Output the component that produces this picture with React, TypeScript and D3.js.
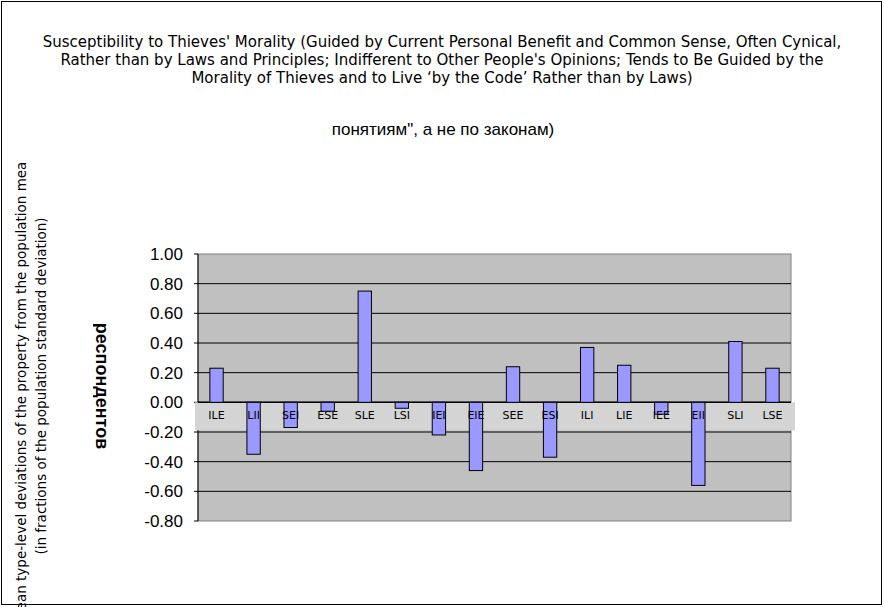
import React from "react";
import * as d3 from "d3";

const categories = ["ILE", "LII", "SEI", "ESE", "SLE", "LSI", "IEI", "EIE", "SEE", "ESI", "ILI", "LIE", "IEE", "EII", "SLI", "LSE"];
const values = [0.23, -0.35, -0.17, -0.06, 0.75, -0.04, -0.22, -0.46, 0.24, -0.37, 0.37, 0.25, -0.08, -0.56, 0.41, 0.23];
const yTicks = [1.0, 0.8, 0.6, 0.4, 0.2, 0, -0.2, -0.4, -0.6, -0.8];
const titleLines = [
  "Susceptibility to Thieves' Morality (Guided by Current Personal Benefit and Common Sense, Often Cynical,",
  "Rather than by Laws and Principles; Indifferent to Other People's Opinions; Tends to Be Guided by the",
  "Morality of Thieves and to Live \u2018by the Code\u2019 Rather than by Laws)",
];

const App: React.FC = () => {
  const width = 884;
  const height = 607;
  const plot = { left: 198, right: 791, top: 254, bottom: 521 };

  const x = d3.scaleBand().domain(categories).range([plot.left, plot.right]).paddingInner(0).paddingOuter(0);
  const y = d3.scaleLinear().domain([-0.8, 1.0]).range([plot.bottom, plot.top]);
  const barW = x.bandwidth() * 0.36;

  return (
    <svg width={width} height={height} style={{ position: "absolute", left: 0, top: 0 }}>
      <rect x={0} y={0} width={width} height={height} fill="white" />
      <rect x={1.5} y={1.5} width={880} height={603} fill="none" stroke="#000" strokeWidth={1} />
      {titleLines.map((t, i) => (
        <text key={i} x={442} y={47 + i * 18} textAnchor="middle" fontFamily="DejaVu Sans" fontSize={15}>
          {t}
        </text>
      ))}
      <text x={443} y={135} textAnchor="middle" fontFamily="Liberation Sans, Arial" fontSize={17}>
        понятиям", а не по законам)
      </text>

      {/* y axis titles */}
      <text transform="translate(26,386) rotate(-90)" textAnchor="middle" fontFamily="DejaVu Sans" fontSize={13.5}>
        ean type-level deviations of the property from the population mea
      </text>
      <text transform="translate(46,386) rotate(-90)" textAnchor="middle" fontFamily="DejaVu Sans" fontSize={13.5}>
        (in fractions of the population standard deviation)
      </text>
      <clipPath id="clipR">
        <rect x={93} y={300} width={15} height={170} />
      </clipPath>
      <g clipPath="url(#clipR)">
        <text transform="translate(96,386) rotate(90)" textAnchor="middle" fontFamily="Liberation Sans, Arial" fontWeight="bold" fontSize={18}>
          респондентов
        </text>
      </g>

      {/* plot area */}
      <rect x={plot.left} y={plot.top} width={plot.right - plot.left} height={plot.bottom - plot.top} fill="#c0c0c0" stroke="#808080" />
      {yTicks.map((t) => (
        <g key={t}>
          {t !== 1 && t !== -0.8 && (
            <line x1={plot.left} x2={plot.right} y1={y(t)} y2={y(t)} stroke="#000" />
          )}
          <line x1={plot.left - 4} x2={plot.left} y1={y(t)} y2={y(t)} stroke="#000" />
          <text x={183} y={y(t)} dy="0.35em" textAnchor="end" fontFamily="Liberation Sans, Arial" fontSize={17}>
            {t.toFixed(2)}
          </text>
        </g>
      ))}
      <line x1={plot.left} x2={plot.left} y1={plot.top} y2={plot.bottom} stroke="#000" />

      {/* category band */}
      <rect x={195} y={y(0)} width={600} height={28} fill="#d4d4d4" />
      <line x1={plot.left} x2={plot.right} y1={y(0)} y2={y(0)} stroke="#000" strokeWidth={1.5} />

      {categories.map((c, i) => {
        const v = values[i];
        const cx = x(c)! + x.bandwidth() / 2;
        return (
          <rect
            key={c}
            x={cx - barW / 2}
            y={y(Math.max(0, v))}
            width={barW}
            height={Math.abs(y(v) - y(0))}
            fill="#9999ff"
            stroke="#000"
          />
        );
      })}
      {categories.map((c) => (
        <text key={c} x={x(c)! + x.bandwidth() / 2} y={y(0) + 17} textAnchor="middle" fontFamily="DejaVu Sans" fontSize={11}>
          {c}
        </text>
      ))}
    </svg>
  );
};

export default App;
